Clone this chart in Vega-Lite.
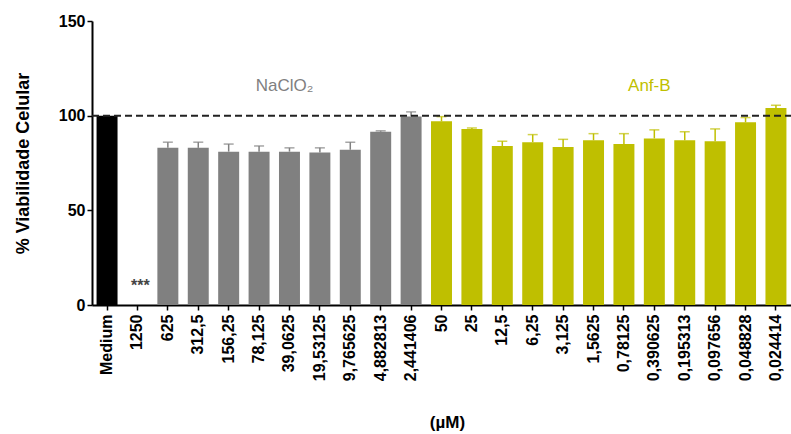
{
  "$schema": "https://vega.github.io/schema/vega-lite/v6.json",
  "width": 699,
  "height": 284,
  "autosize": {"type": "none"},
  "padding": {"left": 92, "top": 21, "right": 0, "bottom": 129},
  "background": "white",
  "config": {
    "view": {"stroke": null},
    "font": "Liberation Sans",
    "axis": {"grid": false, "domainColor": "black", "tickColor": "black", "labelColor": "black", "titleColor": "black", "labelFontWeight": "bold", "titleFontWeight": "bold", "labelFont": "Liberation Sans", "titleFont": "Liberation Sans"}
  },
  "datasets": {
    "bars": [
      {"c": "Medium", "g": "Medium", "v": 100, "hi": null},
      {"c": "1250", "g": "NaClO2", "v": 0, "hi": null},
      {"c": "625", "g": "NaClO2", "v": 83, "hi": 86},
      {"c": "312,5", "g": "NaClO2", "v": 83, "hi": 86},
      {"c": "156,25", "g": "NaClO2", "v": 81, "hi": 85},
      {"c": "78,125", "g": "NaClO2", "v": 81, "hi": 84},
      {"c": "39,0625", "g": "NaClO2", "v": 81, "hi": 83},
      {"c": "19,53125", "g": "NaClO2", "v": 80.5, "hi": 83},
      {"c": "9,765625", "g": "NaClO2", "v": 82, "hi": 86},
      {"c": "4,882813", "g": "NaClO2", "v": 91.5, "hi": 92},
      {"c": "2,441406", "g": "NaClO2", "v": 99.5, "hi": 102},
      {"c": "50", "g": "Anf-B", "v": 97, "hi": 99.5},
      {"c": "25", "g": "Anf-B", "v": 93, "hi": 93.5},
      {"c": "12,5", "g": "Anf-B", "v": 84, "hi": 86.5},
      {"c": "6,25", "g": "Anf-B", "v": 86, "hi": 90},
      {"c": "3,125", "g": "Anf-B", "v": 83.5, "hi": 87.5},
      {"c": "1,5625", "g": "Anf-B", "v": 87, "hi": 90.5},
      {"c": "0,78125", "g": "Anf-B", "v": 85, "hi": 90.5},
      {"c": "0,390625", "g": "Anf-B", "v": 88, "hi": 92.5},
      {"c": "0,195313", "g": "Anf-B", "v": 87, "hi": 91.5},
      {"c": "0,097656", "g": "Anf-B", "v": 86.5, "hi": 93},
      {"c": "0,048828", "g": "Anf-B", "v": 96.5, "hi": 99},
      {"c": "0,024414", "g": "Anf-B", "v": 104, "hi": 105.5}
    ],
    "labels": [
      {"c": "39,0625", "g": "NaClO2", "y": 115.5, "t": "NaClO₂"},
      {"c": "0,390625", "g": "Anf-B", "y": 115.5, "t": "Anf-B"}
    ],
    "stars": [
      {"c": "1250", "y": 10, "t": "***"}
    ],
    "ref": [
      {"y": 100}
    ]
  },
  "encoding": {
    "x": {
      "field": "c", "type": "nominal",
      "scale": {"domain": ["Medium","1250","625","312,5","156,25","78,125","39,0625","19,53125","9,765625","4,882813","2,441406","50","25","12,5","6,25","3,125","1,5625","0,78125","0,390625","0,195313","0,097656","0,048828","0,024414"], "paddingInner": 0.31, "paddingOuter": 0.15},
      "axis": {"title": "(µM)", "labelAngle": -90, "labelAlign": "right", "labelBaseline": "middle", "labelFontSize": 16, "titleFontSize": 17, "domainWidth": 2, "tickWidth": 1.5, "tickSize": 5, "labelPadding": 4, "titleX": 355, "titleY": 109, "titleBaseline": "top", "titleAnchor": "middle", "titleAlign": "center"}
    }
  },
  "layer": [
    {
      "data": {"name": "bars"},
      "mark": {"type": "bar"},
      "encoding": {
        "y": {"field": "v", "type": "quantitative", "scale": {"domain": [0, 150], "nice": false},
          "axis": {"title": "% Viabilidade Celular", "values": [0, 50, 100, 150], "labelFontSize": 16, "titleFontSize": 18, "domainWidth": 2, "tickWidth": 1.5, "tickSize": 5, "labelPadding": 2, "titlePadding": 26}},
        "color": {"field": "g", "type": "nominal", "scale": {"domain": ["Medium", "NaClO2", "Anf-B"], "range": ["#000000", "#808080", "#bfbf00"]}, "legend": null}
      }
    },
    {
      "data": {"name": "bars"},
      "transform": [{"filter": "datum.hi != null"}],
      "mark": {"type": "rule", "strokeWidth": 1.5},
      "encoding": {
        "y": {"field": "v", "type": "quantitative"},
        "y2": {"field": "hi"},
        "color": {"field": "g", "type": "nominal", "legend": null}
      }
    },
    {
      "data": {"name": "bars"},
      "transform": [{"filter": "datum.hi != null"}],
      "mark": {"type": "tick", "size": 10, "thickness": 1.5},
      "encoding": {
        "y": {"field": "hi", "type": "quantitative"},
        "color": {"field": "g", "type": "nominal", "legend": null}
      }
    },
    {
      "data": {"name": "ref"},
      "mark": {"type": "rule", "strokeDash": [7, 4], "strokeWidth": 2, "color": "#222222"},
      "encoding": {"y": {"field": "y", "type": "quantitative"}, "x": {"value": 0}, "x2": {"value": 699}}
    },
    {
      "data": {"name": "labels"},
      "mark": {"type": "text", "fontSize": 17, "baseline": "middle", "align": "center", "dx": -5},
      "encoding": {
        "y": {"field": "y", "type": "quantitative"},
        "text": {"field": "t"},
        "color": {"field": "g", "type": "nominal", "legend": null}
      }
    },
    {
      "data": {"name": "stars"},
      "mark": {"type": "text", "fontSize": 16, "fontWeight": "bold", "baseline": "middle", "align": "center", "dx": 3, "color": "#444444"},
      "encoding": {
        "y": {"field": "y", "type": "quantitative"},
        "text": {"field": "t"}
      }
    }
  ]
}
